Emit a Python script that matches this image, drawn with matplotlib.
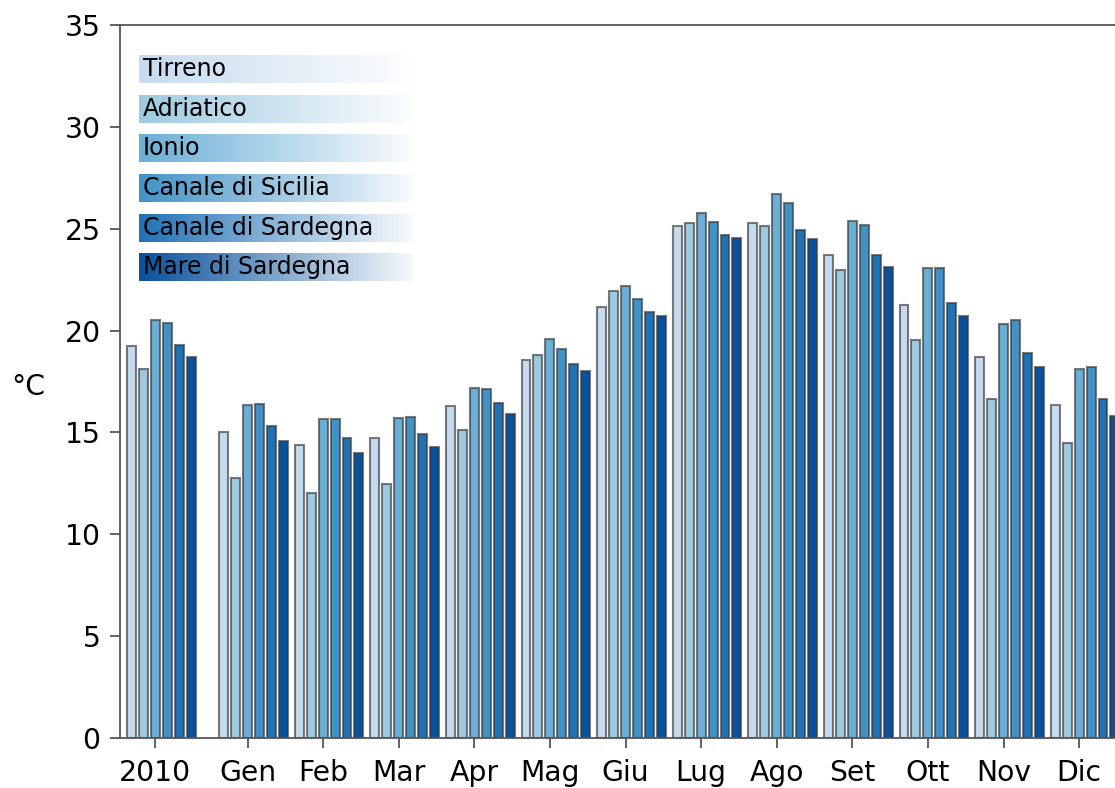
import numpy as np
import matplotlib
matplotlib.use("Agg")
import matplotlib.pyplot as plt
from matplotlib.colors import to_rgb

# ---- data ----
categories = ['2010', 'Gen', 'Feb', 'Mar', 'Apr', 'Mag', 'Giu', 'Lug', 'Ago', 'Set', 'Ott', 'Nov', 'Dic']
series_names = ['Tirreno', 'Adriatico', 'Ionio', 'Canale di Sicilia', 'Canale di Sardegna', 'Mare di Sardegna']
tirreno = [19.24, 15.02, 14.40, 14.71, 16.28, 18.56, 21.17, 25.12, 25.27, 23.70, 21.24, 18.72, 16.36]
adriatico = [18.10, 12.76, 12.01, 12.45, 15.12, 18.82, 21.93, 25.28, 25.12, 22.96, 19.54, 16.66, 14.50]
ionio = [20.50, 16.35, 15.65, 15.71, 17.18, 19.60, 22.19, 25.79, 26.71, 25.37, 23.09, 20.34, 18.10]
canale_sicilia = [20.36, 16.40, 15.68, 15.76, 17.12, 19.11, 21.57, 25.35, 26.28, 25.17, 23.09, 20.52, 18.20]
canale_sardegna = [19.28, 15.33, 14.73, 14.94, 16.46, 18.36, 20.91, 24.71, 24.95, 23.70, 21.37, 18.88, 16.64]
mare_sardegna = [18.70, 14.58, 14.01, 14.30, 15.92, 18.00, 20.72, 24.56, 24.50, 23.11, 20.73, 18.21, 15.81]
series_values = [tirreno, adriatico, ionio, canale_sicilia, canale_sardegna, mare_sardegna]
yticks = [0, 5, 10, 15, 20, 25, 30, 35]

colors = ['#c6dbef', '#9ecae1', '#6baed6', '#4292c6', '#2171b5', '#08519c']

W, H = 1115, 788
fig = plt.figure(figsize=(W / 100, H / 100), dpi=100)

ax_left, ax_right, ax_top, ax_bottom = 120, 1140, 25, 738
ax = fig.add_axes([ax_left / W, (H - ax_bottom) / H,
                   (ax_right - ax_left) / W, (ax_bottom - ax_top) / H])

group_pos = np.array([-1.22] + list(range(12)), dtype=float)
slot = 0.158
bw = 0.118
for i, (vals, c) in enumerate(zip(series_values, colors)):
    ax.bar(group_pos + (i - 2) * slot, vals, width=bw, color=c,
           edgecolor=(0.22, 0.22, 0.22, 0.65), linewidth=1.5, zorder=2)

# x limits from pixel layout: Gen tick at 247.5 px, 75.6 px per unit
px_per_unit = 75.6
ax.set_xlim(-(247.5 - ax_left) / px_per_unit, (ax_right - 247.5) / px_per_unit)
ax.set_ylim(0, 35)
ax.set_xticks(group_pos)
ax.set_xticklabels(categories)
ax.set_yticks(yticks)

fs = 20.3
spine_col = '#555555'
for s in ['left', 'top', 'bottom']:
    ax.spines[s].set_color(spine_col)
    ax.spines[s].set_linewidth(1.3)
ax.spines['right'].set_visible(False)
ax.tick_params(axis='both', colors=spine_col, labelcolor='black', labelsize=fs,
               length=7, width=1.3, direction='out')
ax.tick_params(axis='x', pad=8)
ax.tick_params(axis='y', pad=7)

fig.text(28 / W, 1 - 387 / H, '°C', ha='center', va='center', fontsize=fs)

# ---- custom gradient legend ----
box_l, box_r, box_h = 139, 413, 28
top0, step = 55, 39.65
for i, (name, c) in enumerate(zip(series_names, colors)):
    top = top0 + i * step
    lax = fig.add_axes([box_l / W, (H - top - box_h) / H, (box_r - box_l) / W, box_h / H])
    rgb = np.array(to_rgb(c))
    t = np.linspace(0, 1, 256)[:, None] * 0.97
    grad = (1 - t) * rgb[None, :] + t * np.ones(3)[None, :]
    img = grad[None, :, :]
    lax.imshow(img, aspect='auto', extent=[0, 1, 0, 1])
    lax.set_axis_off()
    lax.text(0.015, 0.5, name, transform=lax.transAxes, ha='left', va='center',
             fontsize=17, color='black')

fig.savefig('out.png', dpi=100)
